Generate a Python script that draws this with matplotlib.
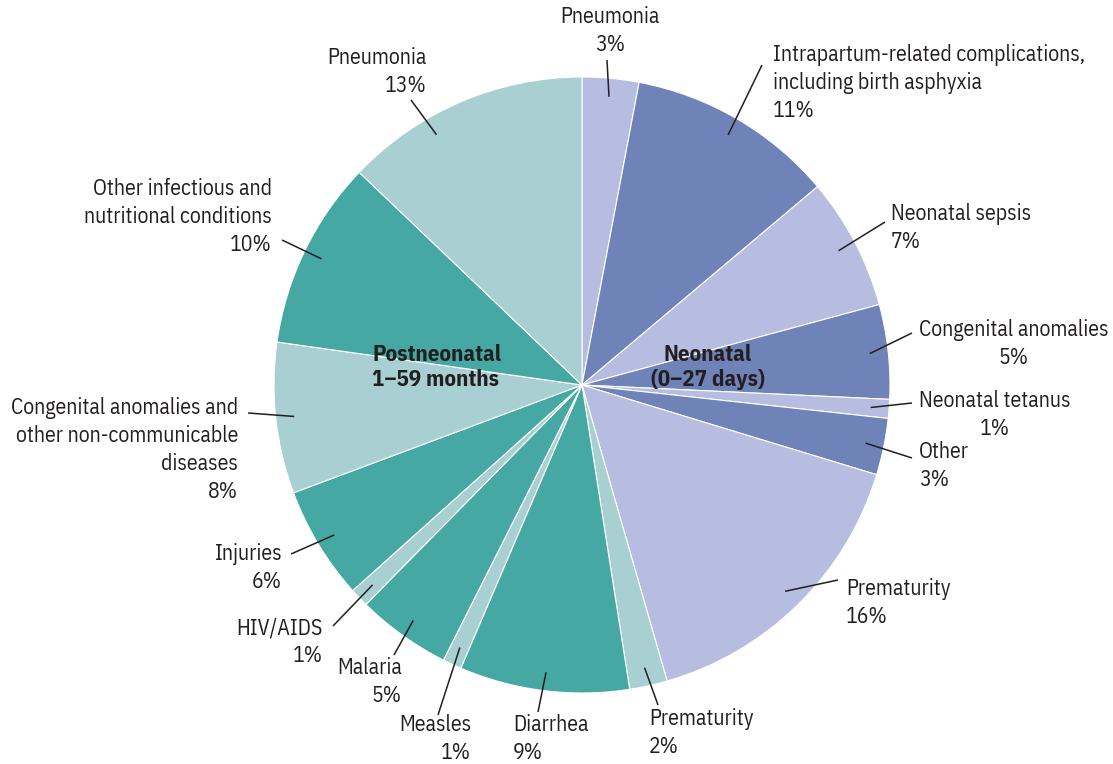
import matplotlib
matplotlib.use("Agg")
import matplotlib.pyplot as plt
import numpy as np

# data
neo_labels = ["Pneumonia\n3%", "Intrapartum-related complications,\nincluding birth asphyxia\n11%",
              "Neonatal sepsis\n7%", "Congenital anomalies\n5%", "Neonatal tetanus\n1%",
              "Other\n3%", "Prematurity\n16%"]
neo_values = [3, 11, 7, 5, 1, 3, 16]
post_labels = ["Prematurity\n2%", "Diarrhea\n9%", "Measles\n1%", "Malaria\n5%", "HIV/AIDS\n1%",
               "Injuries\n6%", "Congenital anomalies and\nother non-communicable\ndiseases\n8%",
               "Other infectious and\nnutritional conditions\n10%", "Pneumonia\n13%"]
post_values = [2, 9, 1, 5, 1, 6, 8, 10, 13]

LAV, SLATE = "#b7bde1", "#6f83b9"
LTEAL, TEAL = "#a8cfd1", "#45a8a3"
neo_colors = [LAV, SLATE, LAV, SLATE, LAV, SLATE, LAV]
post_colors = [LTEAL, TEAL, LTEAL, TEAL, LTEAL, TEAL, LTEAL, TEAL, LTEAL]

TXT = "#231f20"
plt.rcParams['font.family'] = ["IBM Plex Sans Condensed", "DejaVu Sans"]

W, H = 1113, 764
fig = plt.figure(figsize=(W/100, H/100), dpi=100)
ax = fig.add_axes([0, 0, 1, 1])

cx, cy, R = 582, 385, 308
wedges, _ = ax.pie(neo_values + post_values, colors=neo_colors + post_colors,
                   startangle=-90, counterclock=True, center=(cx, cy), radius=R,
                   wedgeprops=dict(edgecolor="white", linewidth=0.8))
ax.set_xlim(0, W)
ax.set_ylim(H, 0)
ax.set_aspect("equal")
ax.axis("off")

# label layout: text x, text y (block centre), ha, multialign, leader end x, y
layout = [
    (610, 31, "center", "center", 607, 60),
    (773, 83, "left", "left", 762, 65),
    (891, 228, "left", "left", 885, 222),
    (919, 344, "left", "center", 912, 333),
    (919, 415, "left", "center", 912, 403),
    (919, 466, "left", "left", 912, 458),
    (846, 603, "left", "left", 838, 580),
    (649, 733, "left", "left", 658, 705),
    (513, 739, "left", "left", 538, 712),
    (471, 739, "right", "right", 438, 715),
    (402, 682, "right", "right", 394, 655),
    (323, 642, "right", "right", 333, 626),
    (282, 568, "right", "right", 291, 554),
    (238, 450, "right", "right", 248, 413),
    (272, 217, "right", "right", 282, 240),
    (427, 72, "right", "right", 411, 100),
]
# small angle shift (degrees) for leader start where the original is off-centre
shift = [0] * 15 + [-7]

for w, lab, (tx, ty, ha, ma, ex, ey), sh in zip(wedges, neo_labels + post_labels, layout, shift):
    mid = np.deg2rad((w.theta1 + w.theta2) / 2 + sh)
    sx = cx + 0.94 * R * np.cos(mid)
    sy = cy + 0.94 * R * np.sin(mid)
    ax.plot([sx, ex], [sy, ey], color=TXT, lw=1.1, solid_capstyle="butt")
    ax.text(tx, ty, lab, ha=ha, va="center", multialignment=ma, fontsize=15.7,
            color=TXT, linespacing=1.35)

ax.text(372, 367, "Postneonatal\n1\u201359 months", ha="left", va="center",
        fontsize=16.5, fontweight="bold", color=TXT, linespacing=1.2)
ax.text(708, 367, "Neonatal\n(0\u201327 days)", ha="center", va="center",
        fontsize=16.5, fontweight="bold", color=TXT, linespacing=1.2)

fig.savefig("out.png", dpi=100)
